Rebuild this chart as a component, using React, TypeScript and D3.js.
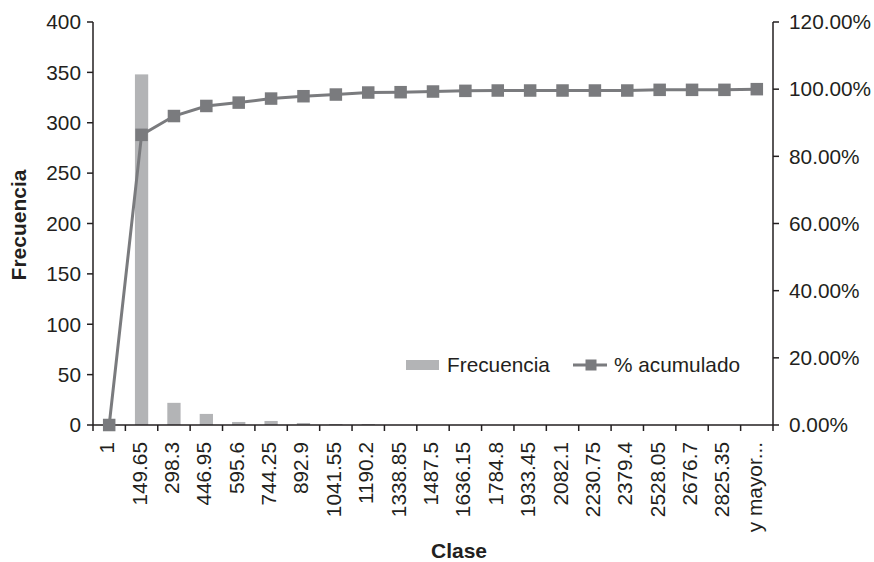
import React from "react";
import * as d3 from "d3";

const categories = ["1","149.65","298.3","446.95","595.6","744.25","892.9","1041.55","1190.2","1338.85","1487.5","1636.15","1784.8","1933.45","2082.1","2230.75","2379.4","2528.05","2676.7","2825.35","y mayor..."];
const frecuencia = [0,348,22,11,3,4,2,1,1,0,0,0,0,0,0,0,0,0,0,0,0];
const acumulado = [0,86.4,92.0,95.0,96.0,97.2,97.9,98.4,99.0,99.1,99.3,99.5,99.6,99.6,99.6,99.6,99.6,99.8,99.8,99.8,100];
const leftTicks = [0,50,100,150,200,250,300,350,400];
const rightTicks = [0,20,40,60,80,100,120];

const W = 874, H = 562;
const L = 93, R = 773, T = 22, B = 425;
const FONT = "'Liberation Sans', Arial, Helvetica, sans-serif";
const BAR = "#b3b4b6";
const LINE = "#7a7b7e";
const AX = "#231f20";
const FS = 20.8;

export default function App() {
  const x = d3.scaleBand<string>().domain(categories).range([L, R]).paddingInner(0).paddingOuter(0);
  const yL = d3.scaleLinear().domain([0, 400]).range([B, T]);
  const yR = d3.scaleLinear().domain([0, 120]).range([B, T]);
  const bw = x.bandwidth();
  const barW = bw * 0.41;
  const cx = (c: string) => (x(c) as number) + bw / 2;
  const line = d3.line<number>().x((_, i) => cx(categories[i])).y(v => yR(v));
  const ms = 12.5;

  return (
    <svg width={W} height={H} style={{ position: "absolute", left: 0, top: 0, background: "#fff" }} fontFamily={FONT}>
      <rect x={0} y={0} width={W} height={H} fill="#fff" />
      {categories.map((c, i) => (
        <rect key={c} x={cx(c) - barW / 2} y={yL(frecuencia[i])} width={barW} height={B - yL(frecuencia[i])} fill={BAR} />
      ))}
      {/* axes */}
      <line x1={L} x2={L} y1={T} y2={B} stroke={AX} strokeWidth={1.5} />
      <line x1={R} x2={R} y1={T} y2={B} stroke={AX} strokeWidth={1.5} />
      <line x1={L} x2={R} y1={B} y2={B} stroke={AX} strokeWidth={1.5} />
      {leftTicks.map(t => (
        <g key={t}>
          <line x1={L - 6} x2={L} y1={yL(t)} y2={yL(t)} stroke={AX} strokeWidth={1.5} />
          <text x={L - 12} y={yL(t)} dy="0.35em" textAnchor="end" fontSize={FS} fill={AX}>{t}</text>
        </g>
      ))}
      {rightTicks.map(t => (
        <g key={t}>
          <line x1={R} x2={R + 6} y1={yR(t)} y2={yR(t)} stroke={AX} strokeWidth={1.5} />
          <text x={R + 16} y={yR(t)} dy="0.35em" textAnchor="start" fontSize={FS} fill={AX}>{t.toFixed(2) + "%"}</text>
        </g>
      ))}
      {categories.map(c => (
        <line key={"t" + c} x1={x(c) as number} x2={x(c) as number} y1={B} y2={B + 6} stroke={AX} strokeWidth={1.5} />
      ))}
      <line x1={R} x2={R} y1={B} y2={B + 6} stroke={AX} strokeWidth={1.5} />
      {categories.map(c => (
        <text key={"l" + c} transform={`translate(${cx(c)},${442}) rotate(-90)`} textAnchor="end" dy="0.24em" fontSize={FS} fill={AX}>{c}</text>
      ))}
      {/* line */}
      <path d={line(acumulado) as string} fill="none" stroke={LINE} strokeWidth={3} />
      {acumulado.map((v, i) => (
        <rect key={"m" + i} x={cx(categories[i]) - ms / 2} y={yR(v) - ms / 2} width={ms} height={ms} fill={LINE} />
      ))}
      {/* titles */}
      <text transform={`translate(26,${225}) rotate(-90)`} textAnchor="middle" fontSize={21} fontWeight="bold" fill={AX}>Frecuencia</text>
      <text x={459} y={558} textAnchor="middle" fontSize={21} fontWeight="bold" fill={AX}>Clase</text>
      {/* legend */}
      <rect x={406} y={360} width={33} height={10} fill={BAR} />
      <text x={447} y={372} fontSize={FS} fill={AX}>Frecuencia</text>
      <line x1={573} x2={607} y1={365} y2={365} stroke={LINE} strokeWidth={3} />
      <rect x={591 - 5.5} y={365 - 5.5} width={11} height={11} fill={LINE} />
      <text x={614} y={372} fontSize={FS} fill={AX}>% acumulado</text>
    </svg>
  );
}
